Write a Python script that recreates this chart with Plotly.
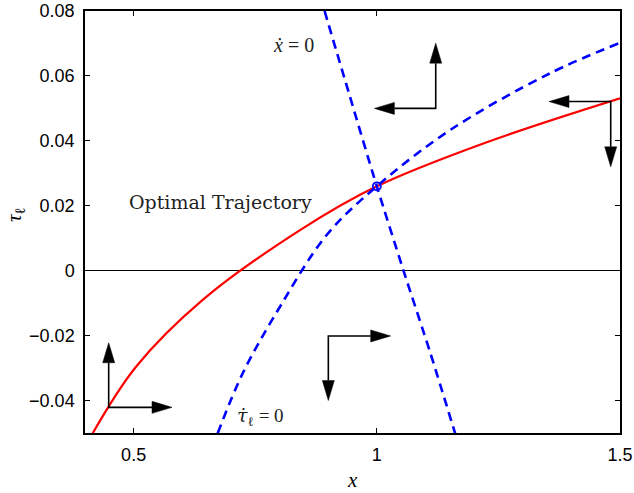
import plotly.graph_objects as go

# optimal trajectory (saddle path)
path_x = [0.4158, 0.5049, 0.6420, 0.8421, 1.0, 1.219, 1.5]
path_y = [-0.0501, -0.0296, -0.0090, 0.0125, 0.0260, 0.0392, 0.0531]

# tau_dot = 0 isocline
taudot_x = [0.6728, 0.7243, 0.8009, 0.8969, 1.0, 1.1505, 1.356, 1.5]
taudot_y = [-0.0501, -0.0316, -0.0111, 0.0110, 0.0260, 0.0433, 0.0608, 0.0702]

# x_dot = 0 isocline
xdot_x = [0.8926, 0.9446, 1.0, 1.0545, 1.1093, 1.161]
xdot_y = [0.08, 0.0537, 0.0260, 0.0002, -0.0250, -0.0501]

# steady state
ss_x = [1.0]
ss_y = [0.0260]

# direction arrows: corner point, tip of horizontal arrow, tip of vertical arrow
arrow_cx = [1.1211, 1.4809, 0.4487, 0.9003]
arrow_cy = [0.0500, 0.0521, -0.0421, -0.0201]
arrow_hx = [0.995, 1.354, 0.5789, 1.0285]
arrow_vy = [0.0701, 0.0320, -0.0222, -0.040]

xrange = [0.4, 1.5]
yrange = [-0.05, 0.08]
W, H = 634, 493
ml, mr, mt, mb = 85, 14, 11, 60
kx = (W - ml - mr) / (xrange[1] - xrange[0])
ky = (H - mt - mb) / (yrange[1] - yrange[0])

fig = go.Figure()

fig.add_trace(go.Scatter(x=path_x, y=path_y, mode="lines",
                         line=dict(color="#ff0000", width=2.2, shape="spline", smoothing=1),
                         hoverinfo="skip"))
fig.add_trace(go.Scatter(x=taudot_x, y=taudot_y, mode="lines",
                         line=dict(color="#0000ff", width=2.6, dash="9px,6px",
                                   shape="spline", smoothing=1),
                         hoverinfo="skip"))
fig.add_trace(go.Scatter(x=xdot_x, y=xdot_y, mode="lines",
                         line=dict(color="#0000ff", width=2.6, dash="9px,6px",
                                   shape="spline", smoothing=0.8),
                         hoverinfo="skip"))
fig.add_trace(go.Scatter(x=ss_x, y=ss_y, mode="markers",
                         marker=dict(symbol="circle-open", size=8, color="#0000ff",
                                     line=dict(width=1.8, color="#0000ff")),
                         hoverinfo="skip"))

# arrow shafts and heads
head_len, head_half = 20, 6
lx, ly, hx_pts, hy_pts = [], [], [], []
for cx, cy, tx, ty in zip(arrow_cx, arrow_cy, arrow_hx, arrow_vy):
    sx = 1 if tx > cx else -1
    sy = 1 if ty > cy else -1
    bx = tx - sx * head_len / kx
    by = ty - sy * head_len / ky
    lx += [bx, cx, cx, None]
    ly += [cy, cy, by, None]
    hx_pts += [tx, bx, bx, tx, None]
    hy_pts += [cy, cy + head_half / ky, cy - head_half / ky, cy, None]
    hx_pts += [cx, cx + head_half / kx, cx - head_half / kx, cx, None]
    hy_pts += [ty, by, by, ty, None]

fig.add_trace(go.Scatter(x=lx, y=ly, mode="lines",
                         line=dict(color="black", width=1.6), hoverinfo="skip"))
fig.add_trace(go.Scatter(x=hx_pts, y=hy_pts, mode="lines", fill="toself",
                         fillcolor="black", line=dict(color="black", width=0.5),
                         hoverinfo="skip"))

serif = "Liberation Serif"
fig.add_annotation(x=0.6776, y=0.0213, text="Optimal Trajectory", showarrow=False,
                   font=dict(family="DejaVu Serif", size=19, color="#222"))
fig.add_annotation(x=0.8277, y=0.0696, text="<i>ẋ</i> = 0", showarrow=False,
                   font=dict(family=serif, size=20, color="#222"))
fig.add_annotation(x=0.7618, y=-0.0450,
                   text="<span style='font-family:DejaVu Serif'><i>τ̇</i></span><sub>ℓ</sub> = 0",
                   showarrow=False, font=dict(family=serif, size=19, color="#222"))

# axis titles
fig.add_annotation(xref="paper", yref="paper", x=(352 - ml) / (W - ml - mr), y=0,
                   xanchor="center", yanchor="middle", yshift=-47,
                   text="<i>x</i>", showarrow=False,
                   font=dict(family=serif, size=21, color="black"))
fig.add_annotation(xref="paper", yref="paper", x=0, xshift=-70,
                   xanchor="center", yanchor="middle",
                   y=(H - mb - 215) / (H - mt - mb), text="<i>τ</i><sub>ℓ</sub>",
                   textangle=-90, showarrow=False,
                   font=dict(family=serif, size=21, color="black"))

axis_common = dict(showline=True, linecolor="black", linewidth=1.5, mirror="ticks",
                   ticks="inside", ticklen=5, tickwidth=1, tickcolor="black",
                   showgrid=False, automargin=False, ticklabeloverflow="allow",
                   tickfont=dict(family="Liberation Sans", size=18, color="black"))

fig.update_layout(
    width=W, height=H,
    margin=dict(l=ml, r=mr, t=mt, b=mb, autoexpand=False),
    paper_bgcolor="white", plot_bgcolor="white",
    showlegend=False,
    xaxis=dict(range=xrange, tickvals=[0.5, 1, 1.5], ticktext=["0.5", "1", "1.5"],
               zeroline=False, ticklabelstandoff=5, **axis_common),
    yaxis=dict(range=yrange,
               tickvals=[-0.04, -0.02, 0, 0.02, 0.04, 0.06, 0.08],
               ticktext=["\u22120.04", "\u22120.02", "0", "0.02", "0.04", "0.06", "0.08"],
               zeroline=True, zerolinecolor="black", zerolinewidth=1,
               ticklabelstandoff=5, **axis_common),
)

# drop the default page margin so the figure sits at the window's corner
fig.write_html("out.html", config={"displayModeBar": False},
               post_script="document.body.style.margin='0px';")
